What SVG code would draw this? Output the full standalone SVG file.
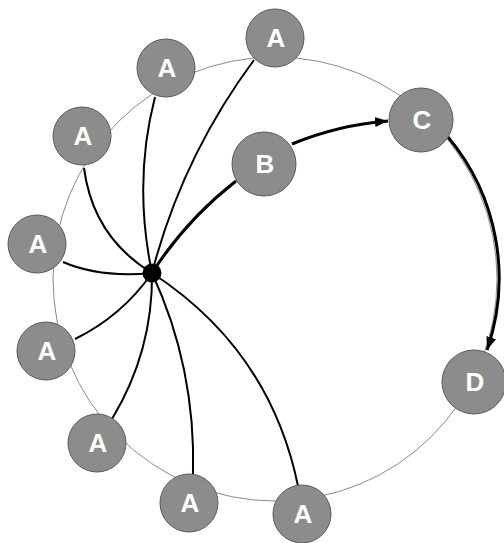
<svg xmlns="http://www.w3.org/2000/svg" width="504" height="543" viewBox="0 0 504 543">
<style>
.ring{fill:none;stroke:#8a8a8a;stroke-width:1}
.e{fill:none;stroke:#000;stroke-width:2}
.t{fill:none;stroke:#000;stroke-width:3}
.n circle{fill:#8c8c8c;stroke:#5a5a5a;stroke-width:1}
.n text{fill:#fff;font-family:"Liberation Sans",Arial,sans-serif;font-weight:bold;font-size:26px;text-anchor:middle}
</style>
<defs>
<marker id="arr" markerUnits="userSpaceOnUse" markerWidth="14" markerHeight="10" refX="13" refY="5" orient="auto">
<path d="M0,0 L13,5 L0,10 z" fill="#000"/>
</marker>
</defs>
<circle class="ring" cx="275" cy="279" r="222"/>
<g id="connectors">
<path class="e" d="M152,273 Q182,157 254,60"/>
<path class="e" d="M152,273 Q133,182 155,97"/>
<path class="e" d="M152,273 Q93,237 84,168"/>
<path class="e" d="M152,273 Q100,278 63,262"/>
<path class="e" d="M152,273 Q122,316 75,339"/>
<path class="e" d="M152,273 Q153,351 112,419"/>
<path class="e" d="M152,273 Q196,368 193,474"/>
<path class="e" d="M152,273 Q270,350 298,486"/>
<path class="t" d="M152,273 Q186,220 236,181"/>
<path class="t" d="M292,144 Q338,125 388,121" marker-end="url(#arr)"/>
<path class="t" d="M448,137 A220,220 0 0 1 487,350" marker-end="url(#arr)"/>
</g>
<g id="hub"><circle cx="152" cy="273" r="9.5" fill="#000"/></g>
<g id="a1" class="n"><circle cx="275" cy="38" r="29"/><text x="276" y="47">A</text></g>
<g id="a2" class="n"><circle cx="166" cy="68" r="29"/><text x="167" y="77">A</text></g>
<g id="a3" class="n"><circle cx="82" cy="136" r="29"/><text x="83" y="145">A</text></g>
<g id="a4" class="n"><circle cx="37" cy="244" r="29"/><text x="38" y="253">A</text></g>
<g id="a5" class="n"><circle cx="46" cy="351" r="29"/><text x="47" y="360">A</text></g>
<g id="a6" class="n"><circle cx="97" cy="443" r="29"/><text x="98" y="452">A</text></g>
<g id="a7" class="n"><circle cx="189" cy="503" r="29"/><text x="190" y="512">A</text></g>
<g id="a8" class="n"><circle cx="302" cy="514" r="29"/><text x="303" y="523">A</text></g>
<g id="b" class="n"><circle cx="264" cy="164" r="32"/><text x="265" y="173">B</text></g>
<g id="c" class="n"><circle cx="421" cy="120" r="32"/><text x="422" y="129">C</text></g>
<g id="d" class="n"><circle cx="474" cy="382" r="32"/><text x="475" y="391">D</text></g>
</svg>
